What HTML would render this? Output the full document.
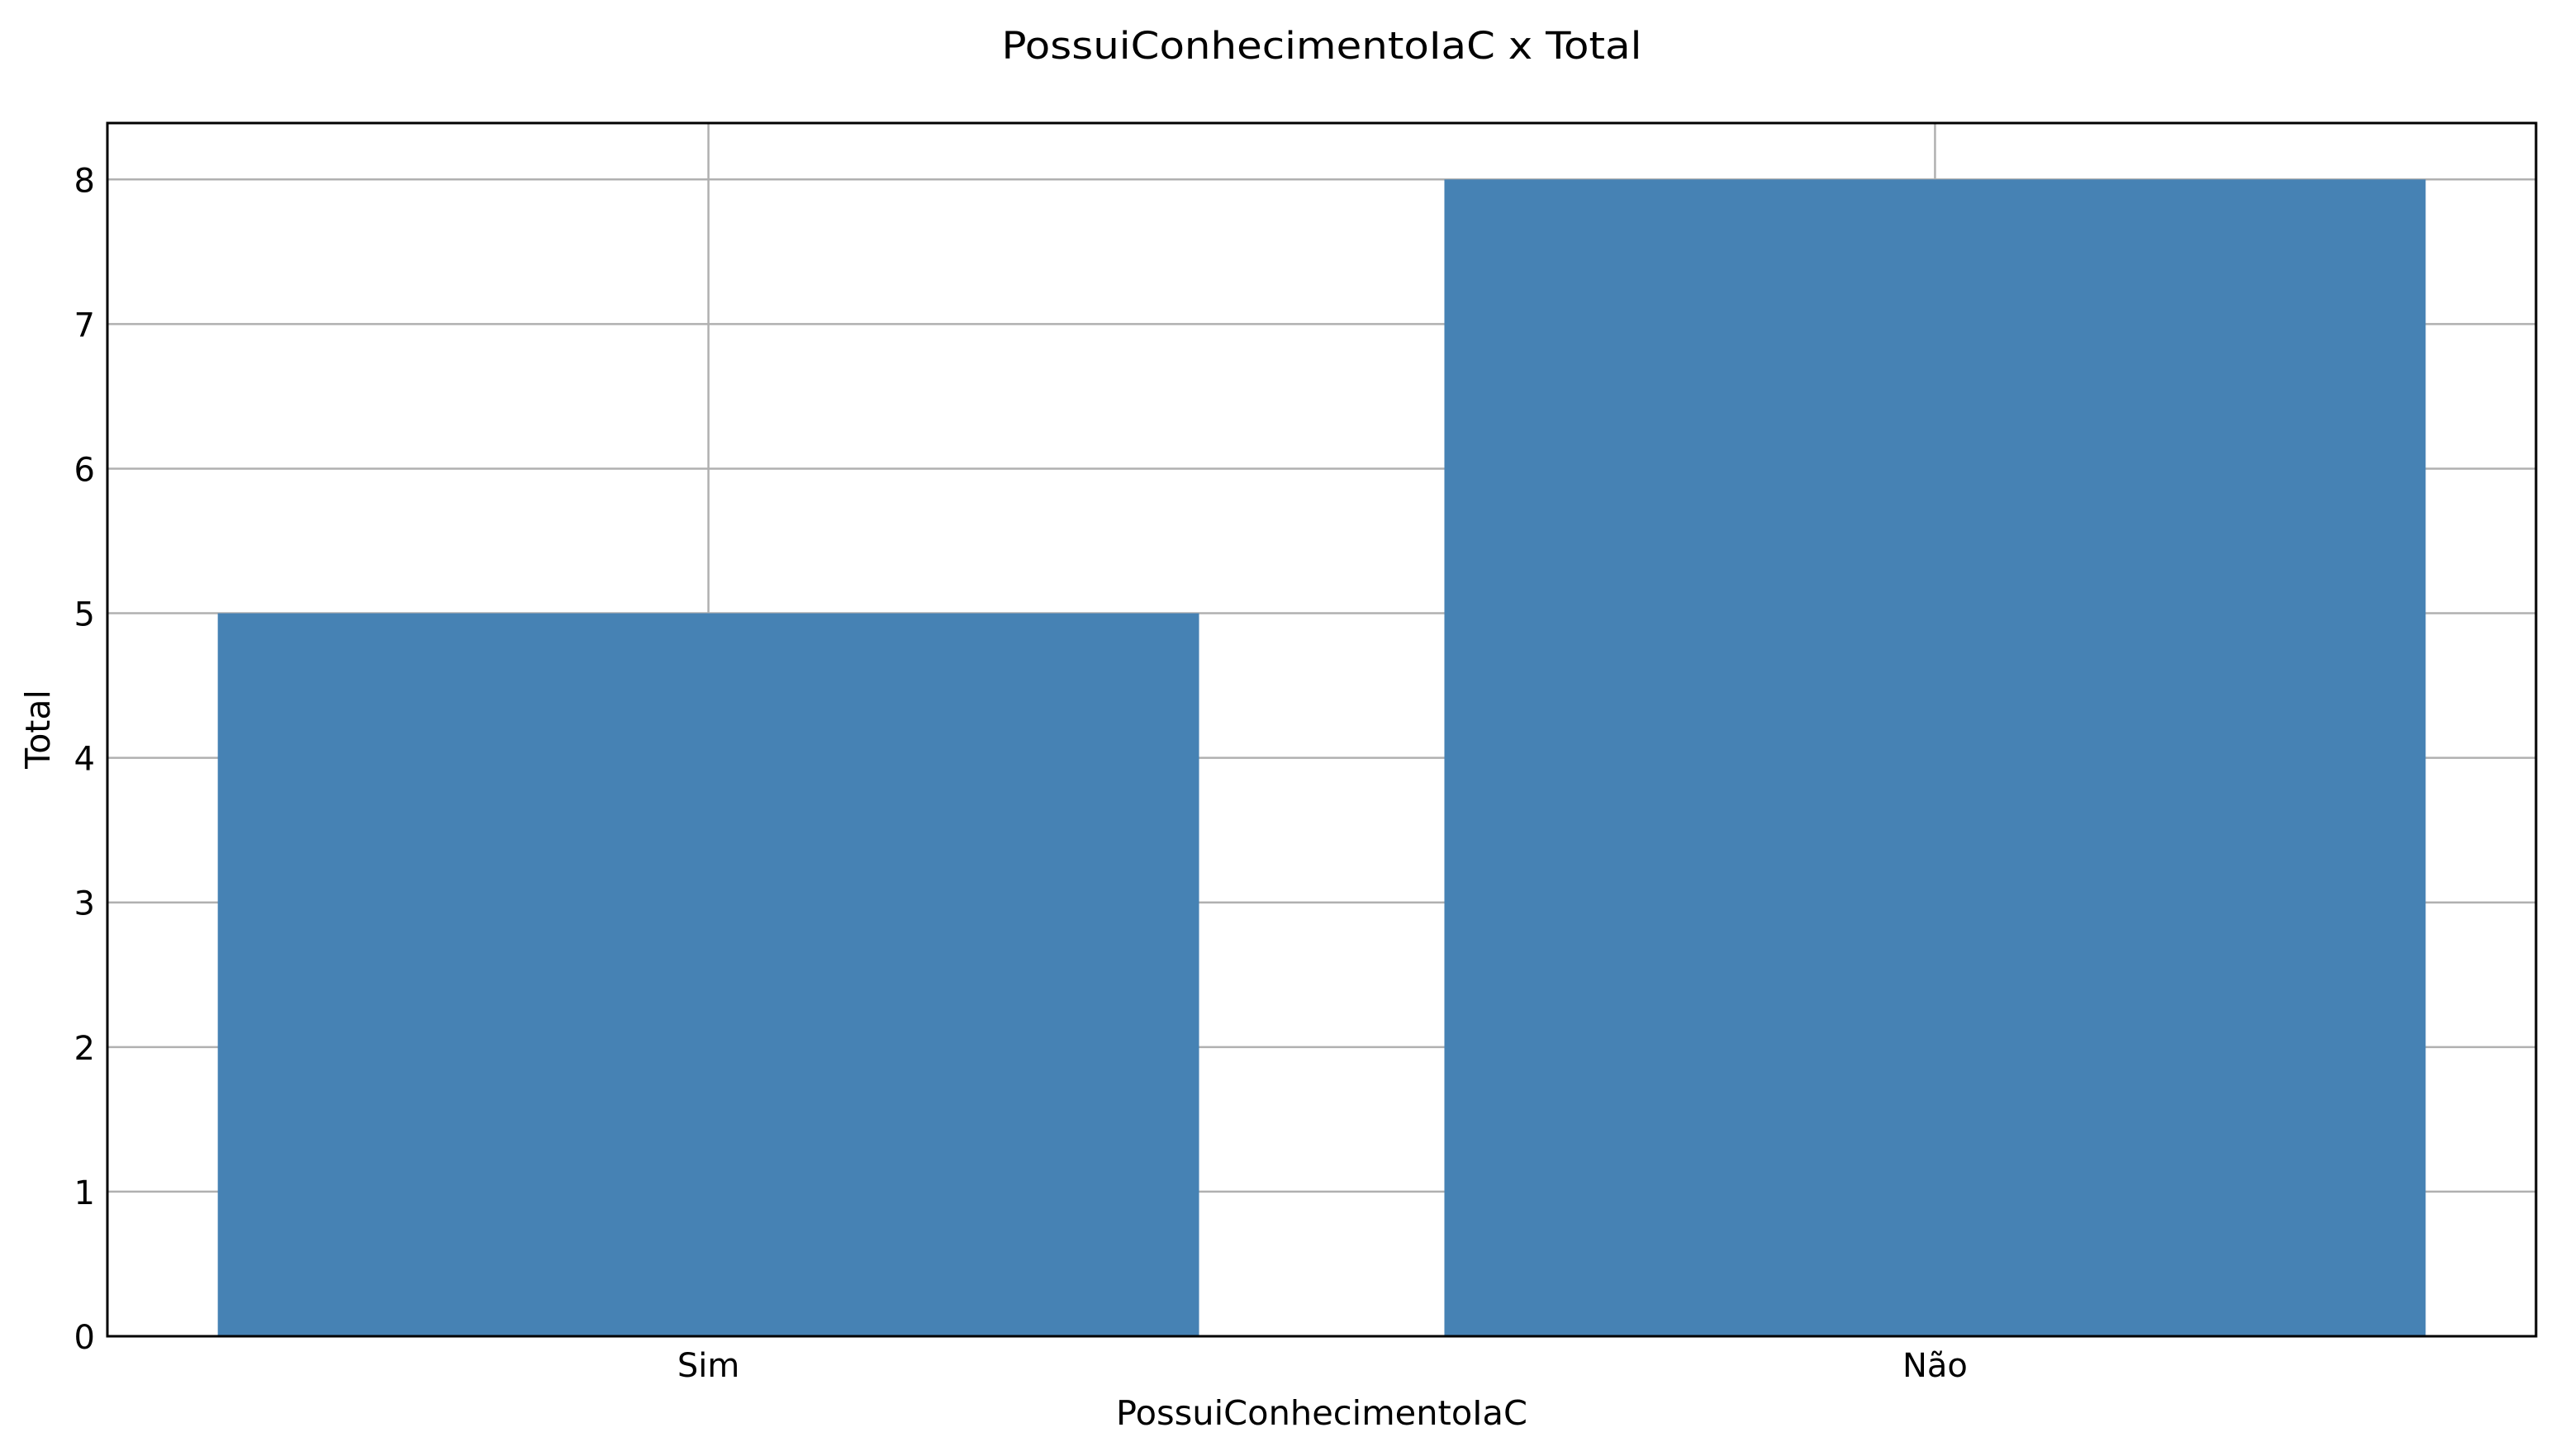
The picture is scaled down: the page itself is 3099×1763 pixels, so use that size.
<!DOCTYPE html>
<html><head><meta charset="utf-8"><style>
html,body{margin:0;padding:0;background:#fff;}
svg{display:block;font-family:"DejaVu Sans","Liberation Sans",sans-serif;}
</style></head><body>
<svg id="chart" width="3099" height="1763" viewBox="0 0 3099 1763" xmlns="http://www.w3.org/2000/svg">
<rect width="3099" height="1763" fill="#fff"/>
<text x="1600" y="71" font-size="45" text-anchor="middle" textLength="775" lengthAdjust="spacingAndGlyphs">PossuiConhecimentoIaC x Total</text>
<g id="grid"></g>
<g id="bars"></g>
<rect x="130" y="149" width="2940" height="1469" fill="none" stroke="#000" stroke-width="3"/>
<g id="yticks"></g>
<g id="xticks"></g>
<text x="1600" y="1725" font-size="41" text-anchor="middle" textLength="498" lengthAdjust="spacingAndGlyphs">PossuiConhecimentoIaC</text>
<text x="0" y="0" font-size="41" text-anchor="middle" transform="translate(60,883) rotate(-90)">Total</text>
</svg>
<script>
const categories = ["Sim", "Não"];
const totals = [5, 8];
const yTicks = [0, 1, 2, 3, 4, 5, 6, 7, 8];

const NS = "http://www.w3.org/2000/svg";
const L = 130, R = 3070, T = 149, B = 1618;
const xMin = -0.49, xMax = 1.49, yMin = 0, yMax = 8.39;
const xs = v => L + (v - xMin) / (xMax - xMin) * (R - L);
const ys = v => B - (v - yMin) / (yMax - yMin) * (B - T);
function mk(tag, attrs, parent) {
  const e = document.createElementNS(NS, tag);
  for (const k in attrs) e.setAttribute(k, attrs[k]);
  parent.appendChild(e);
  return e;
}
const grid = document.getElementById("grid");
const bars = document.getElementById("bars");
const yt = document.getElementById("yticks");
const xt = document.getElementById("xticks");
yTicks.forEach(v => {
  const ln = mk("line", {x1: L, x2: R, y1: ys(v), y2: ys(v), stroke: "#b0b0b0", "stroke-width": 2.5}, grid);
  
  
  const t = mk("text", {x: 115, y: ys(v) + 15, "font-size": 40, "text-anchor": "end"}, yt);
  t.textContent = v;
  
  
});
categories.forEach((c, i) => {
  const ln = mk("line", {x1: xs(i), x2: xs(i), y1: T, y2: B, stroke: "#b0b0b0", "stroke-width": 2.5}, grid);
  
  
  const x0 = xs(i - 0.4), x1 = xs(i + 0.4);
  const r = mk("rect", {x: x0, y: ys(totals[i]), width: x1 - x0, height: ys(0) - ys(totals[i]), fill: "#4682b4"}, bars);
  
  
  const t = mk("text", {x: xs(i), y: 1667, "font-size": 40, "text-anchor": "middle"}, xt);
  t.textContent = c;
  
  
});
</script>
</body></html>
